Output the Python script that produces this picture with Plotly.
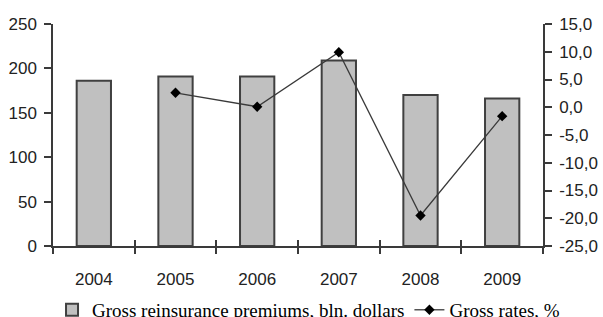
import plotly.graph_objects as go

years = ["2004", "2005", "2006", "2007", "2008", "2009"]
premiums = [186, 191, 191, 209, 170, 166]
rates = [None, 2.6, 0.1, 9.9, -19.5, -1.6]

premium_ticks = [0, 50, 100, 150, 200, 250]
rate_ticks = [-25, -20, -15, -10, -5, 0, 5, 10, 15]
rate_tick_labels = ["-25,0", "-20,0", "-15,0", "-10,0", "-5,0", "0,0", "5,0", "10,0", "15,0"]

AX = "#3a3a3a"
TXT = "#222222"
tick_font = dict(family="Liberation Sans, Arial, sans-serif", size=17, color=TXT)

fig = go.Figure()
fig.add_trace(go.Bar(
    x=years, y=premiums, name="Gross reinsurance premiums, bln. dollars",
    marker=dict(color="#c0c0c0", line=dict(color="#404040", width=2)),
    width=0.42, xaxis="x", yaxis="y",
))
fig.add_trace(go.Scatter(
    x=years, y=rates, name="Gross rates, %", mode="lines+markers",
    line=dict(color="#3a3a3a", width=1.3),
    marker=dict(symbol="diamond", size=8, color="#000000"),
    xaxis="x2", yaxis="y2",
))

common_x = dict(type="category", categoryorder="array", categoryarray=years,
                range=[-0.5, 5.5], tickson="boundaries", ticklen=6,
                tickwidth=1.5, tickcolor=AX, showgrid=False, zeroline=False)

fig.update_layout(
    width=603, height=317,
    margin=dict(l=53, r=60, t=24, b=71, autoexpand=False),
    paper_bgcolor="white", plot_bgcolor="white",
    showlegend=True,
    legend=dict(orientation="h", x=-0.002, xanchor="left",
                y=-0.288, yanchor="middle",
                font=dict(family="Liberation Serif, Times New Roman, serif", size=19, color="#000000"),
                bgcolor="rgba(0,0,0,0)", tracegroupgap=0, itemwidth=30),
    xaxis=dict(**common_x, ticks="outside", showline=True, linecolor=AX, linewidth=1.5,
               tickfont=tick_font, ticklabelstandoff=17, anchor="y"),
    xaxis2=dict(**common_x, ticks="inside", showline=False, showticklabels=False,
                overlaying="x", anchor="y"),
    yaxis=dict(range=[0, 250], tickvals=premium_ticks, ticks="outside", ticklen=7,
               tickwidth=1.5, tickcolor=AX, showline=True, linecolor=AX, linewidth=1.5,
               showgrid=False, zeroline=False, tickfont=tick_font, ticklabelstandoff=4,
               anchor="x"),
    yaxis2=dict(range=[-25, 15], tickvals=rate_ticks, ticktext=rate_tick_labels,
                side="right", overlaying="y", anchor="x2", ticks="outside", ticklen=7,
                tickwidth=1.5, tickcolor=AX, showline=True, linecolor=AX, linewidth=1.5,
                showgrid=False, zeroline=False, tickfont=tick_font, ticklabelstandoff=4),
    yaxis3=dict(range=[0, 250], tickvals=premium_ticks, ticks="inside", ticklen=7,
                tickwidth=1.5, tickcolor=AX, showline=False, showticklabels=False,
                showgrid=False, zeroline=False, overlaying="y", anchor="x", side="left"),
    yaxis4=dict(range=[-25, 15], tickvals=rate_ticks, ticks="inside", ticklen=7,
                tickwidth=1.5, tickcolor=AX, showline=False, showticklabels=False,
                showgrid=False, zeroline=False, overlaying="y", anchor="x", side="right"),
)

fig.write_html("out.html", config={"displayModeBar": False},
               post_script="document.body.style.margin='0';document.body.style.overflow='hidden';")
